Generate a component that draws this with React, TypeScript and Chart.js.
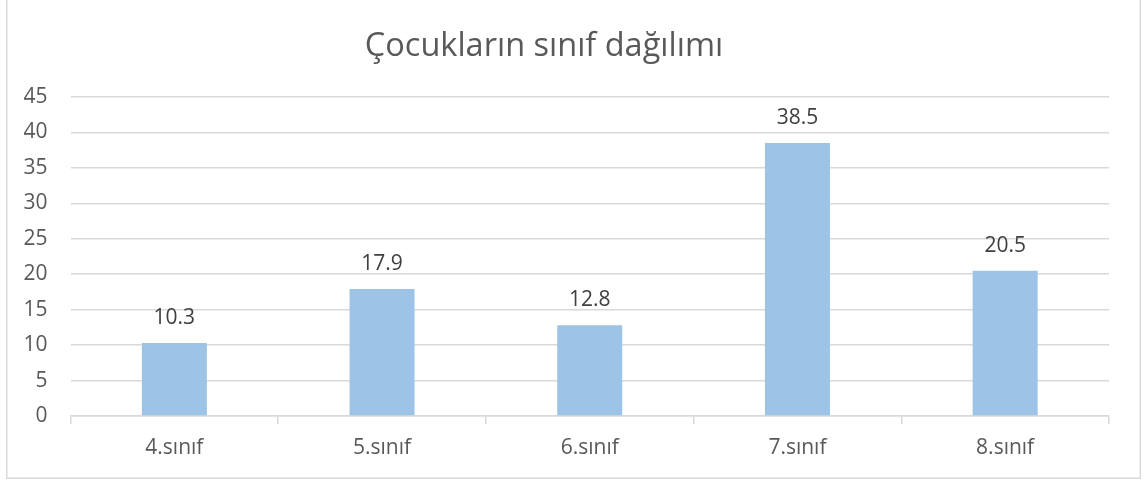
import React, { useEffect, useRef } from "react";
import { Chart, registerables } from "chart.js";

Chart.register(...registerables);

const TITLE = "Çocukların sınıf dağılımı";
const categories = ["4.sınıf", "5.sınıf", "6.sınıf", "7.sınıf", "8.sınıf"];
const values = [10.3, 17.9, 12.8, 38.5, 20.5];
const yMax = 45;
const yStep = 5;

const FONT = "'Open Sans', 'Liberation Sans', sans-serif";

const framePlugin = {
  id: "frame",
  beforeDraw(chart: any) {
    const ctx = chart.ctx;
    ctx.save();
    ctx.fillStyle = "#ffffff";
    ctx.fillRect(0, 0, chart.width, chart.height);
    ctx.strokeStyle = "#d9d9d9";
    ctx.lineWidth = 1.5;
    ctx.strokeRect(6.75, -2, 1133.5, 480.25);
    ctx.fillStyle = "#595959";
    ctx.font = `32.5px ${FONT}`;
    ctx.textAlign = "center";
    ctx.textBaseline = "alphabetic";
    ctx.fillText(TITLE, 544, 56);
    ctx.restore();
  },
};

const labelPlugin = {
  id: "barLabels",
  afterDatasetsDraw(chart: any) {
    const ctx = chart.ctx;
    const meta = chart.getDatasetMeta(0);
    ctx.save();
    ctx.fillStyle = "#404040";
    ctx.font = `21px ${FONT}`;
    ctx.textAlign = "center";
    ctx.textBaseline = "middle";
    meta.data.forEach((bar: any, i: number) => {
      ctx.fillText(String(values[i]), bar.x, bar.y - 25);
    });
    ctx.restore();
  },
};

export default function App() {
  const ref = useRef<HTMLCanvasElement>(null);
  useEffect(() => {
    if (!ref.current) return;
    const chart = new Chart(ref.current, {
      type: "bar",
      data: {
        labels: categories,
        datasets: [
          {
            data: values,
            backgroundColor: "#9dc3e6",
            borderWidth: 0,
            categoryPercentage: 1,
            barPercentage: 0.313,
          },
        ],
      },
      options: {
        animation: false,
        responsive: true,
        maintainAspectRatio: false,
        layout: { padding: { left: 0, right: 38, top: 97, bottom: 0 } },
        plugins: {
          legend: { display: false },
          title: { display: false },
          tooltip: { enabled: false },
        },
        scales: {
          x: {
            afterFit: (s: any) => {
              s.height = 65;
            },
            grid: {
              display: true,
              drawOnChartArea: false,
              drawTicks: true,
              tickLength: 8,
              offset: true,
              color: "#d9d9d9",
              lineWidth: 1.5,
            },
            border: { display: true, color: "#d9d9d9", width: 1.5 },
            ticks: {
              color: "#595959",
              font: { family: FONT, size: 21 },
              padding: 11,
            },
          },
          y: {
            min: 0,
            max: yMax,
            afterFit: (s: any) => {
              s.width = 70.5;
            },
            ticks: {
              stepSize: yStep,
              color: "#595959",
              font: { family: FONT, size: 21 },
              padding: 23,
            },
            grid: {
              color: "#d9d9d9",
              lineWidth: 1.5,
              drawTicks: false,
            },
            border: { display: false },
          },
        },
      },
      plugins: [framePlugin, labelPlugin],
    });
    return () => chart.destroy();
  }, []);
  return (
    <div style={{ position: "fixed", left: 0, top: 0, width: 1147, height: 481 }}>
      <canvas ref={ref} />
    </div>
  );
}
